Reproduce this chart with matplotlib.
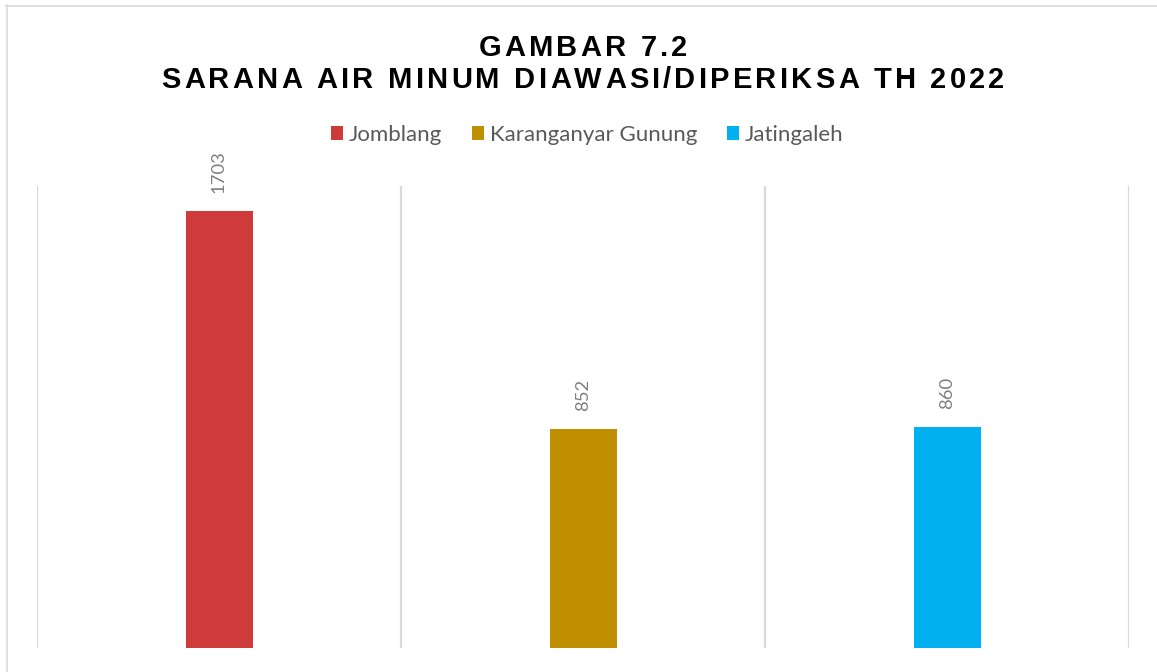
import matplotlib
matplotlib.use("Agg")
import matplotlib.pyplot as plt
from matplotlib.lines import Line2D
from matplotlib.patches import Patch
from matplotlib.font_manager import FontProperties

# ---- data ----
categories = ["Jomblang", "Karanganyar Gunung", "Jatingaleh"]
values = [1703, 852, 860]
colors = ["#CF3B3B", "#BF8F00", "#00B0F0"]
title_lines = ["GAMBAR 7.2", "SARANA AIR MINUM DIAWASI/DIPERIKSA TH 2022"]

W, H = 1157, 672
DPI = 100
fig = plt.figure(figsize=(W / DPI, H / DPI), dpi=DPI)
fig.patch.set_facecolor("white")

def fx(px):
    return px / W

def fy(py):
    return 1 - py / H

# outer chart border (only top/left visible in the crop)
fig.add_artist(Line2D([fx(6), fx(W)], [fy(5.5), fy(5.5)], color="#D9D9D9", lw=1.2))
fig.add_artist(Line2D([fx(6.5), fx(6.5)], [fy(5), fy(H)], color="#D9D9D9", lw=1.2))

ax_l, ax_r, ax_t, ax_b = 37, 1129, 186, 648
ax = fig.add_axes([fx(ax_l), fy(ax_b), fx(ax_r - ax_l), (ax_b - ax_t) / H])
ax.set_xlim(0, len(categories))
ax.set_ylim(0, 1800)
for s in ax.spines.values():
    s.set_visible(False)
ax.set_xticks([])
ax.set_yticks([])

for i in range(len(categories) + 1):
    ax.axvline(i, color="#D9D9D9", lw=1.6, zorder=0)

bar_w = 67 / 364
positions = [i + 0.5 for i in range(len(categories))]
bars = ax.bar(positions, values, width=bar_w, color=colors, zorder=2)

label_font = "Lato"
for b, v in zip(bars, values):
    ax.annotate(str(v), (b.get_x() + b.get_width() / 2, b.get_height()),
                xytext=(0, 13), textcoords="offset points",
                rotation=90, ha="center", va="bottom",
                fontsize=13.3, color="#7F7F7F", family=label_font)

# legend
handles = [Patch(facecolor=c, edgecolor="none") for c in colors]
fig.legend(handles, categories, loc="center", bbox_to_anchor=(fx(587), fy(135)),
           ncol=3, frameon=False, prop={"family": label_font, "size": 16.0},
           labelcolor="#595959", handlelength=0.55, handleheight=0.55,
           handletextpad=0.25, columnspacing=1.35)

# title with letter spacing
fig.canvas.draw()
renderer = fig.canvas.get_renderer()
fp = FontProperties(family="Liberation Sans", weight="bold", size=21)

def char_w(ch):
    if ch == " ":
        a = renderer.get_text_width_height_descent("I I", fp, ismath=False)[0]
        b = renderer.get_text_width_height_descent("II", fp, ismath=False)[0]
        return a - b
    return renderer.get_text_width_height_descent(ch, fp, ismath=False)[0]

target_w2 = 843
ws2 = [char_w(c) for c in title_lines[1]]
spacing = (target_w2 - sum(ws2)) / (len(title_lines[1]) - 1)

center_x = 583
baselines = [56, 88]
for line, by in zip(title_lines, baselines):
    ws = [char_w(c) for c in line]
    total = sum(ws) + spacing * (len(line) - 1)
    x = center_x - total / 2
    for ch, w in zip(line, ws):
        if ch != " ":
            fig.text(fx(x), fy(by), ch, fontproperties=fp, color="black",
                     ha="left", va="baseline")
        x += w + spacing

fig.savefig("out.png", dpi=DPI, facecolor="white")
